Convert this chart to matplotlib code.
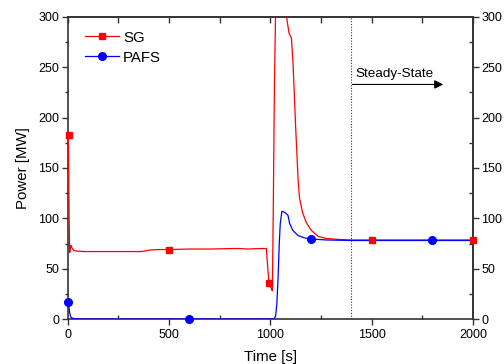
import matplotlib
matplotlib.use("Agg")
import matplotlib.pyplot as plt
from matplotlib.ticker import MultipleLocator, NullFormatter, FixedLocator

plt.rcParams['font.family'] = ['Liberation Sans', 'DejaVu Sans']

# SG (red) series
sg_t = [0, 3, 5, 7, 10, 13, 16, 20, 30, 45, 80, 150, 250, 360, 380, 405, 450, 500, 600, 700, 815,
        850, 890, 950, 980, 993, 1005, 1010, 1015, 1020, 1027, 1035, 1050, 1070, 1080, 1092, 1104,
        1112, 1125, 1137, 1144, 1160, 1177, 1202, 1236, 1275, 1341, 1400, 1500, 1600, 1800, 2000]
sg_p = [183, 183, 150, 100, 66, 70, 73, 71, 68, 67.5, 67, 67, 67, 67, 67.5, 68.5, 69, 69, 69.5, 69.5, 70,
        70, 69.5, 70, 70, 36, 30, 28, 120, 230, 320, 380, 400, 380, 300, 284, 279,
        254, 190, 138, 120, 105, 96, 88, 82, 80, 79, 78.5, 78.5, 78.5, 78.5, 78.5]
sg_mt = [5, 500, 993, 1500, 2000]
sg_mp = [183, 69, 36, 78.5, 78.5]

# PAFS (blue) series
pa_t = [0, 3, 6, 10, 15, 20, 30, 60, 200, 600, 1000, 1018, 1026, 1032, 1038, 1044, 1049, 1057,
        1070, 1087, 1095, 1111, 1136, 1169, 1202, 1275, 1400, 1600, 1800, 2000]
pa_p = [17, 17, 12, 6, 2, 1, 0.5, 0, 0, 0, 0, 0, 3, 15, 40, 75, 95, 107,
        106, 103, 95, 88, 83, 80.5, 79.5, 78.5, 78, 78, 78, 78]
pa_mt = [3, 600, 1200, 1800]
pa_mp = [16.5, 0, 79.5, 78]

x_major = [0, 500, 1000, 1500, 2000]
x_minor = [250, 750, 1250, 1750]
y_major = [0, 50, 100, 150, 200, 250, 300]
y_minor = [25, 75, 125, 175, 225, 275]

fig = plt.figure(figsize=(5.04, 3.64), dpi=100)
ax = fig.add_axes([67.7/504, 1-319/364, (473-67.7)/504, (319-17)/364])

ax.plot(sg_t, sg_p, color='#ff0000', lw=0.9, zorder=3)
ax.plot(pa_t, pa_p, color='#0000ff', lw=0.9, zorder=3)
ax.plot(sg_mt, sg_mp, ls='none', marker='s', ms=5, color='#ff0000', zorder=4, clip_on=False)
ax.plot(pa_mt, pa_mp, ls='none', marker='o', ms=5.5, color='#0000ff', zorder=4, clip_on=False)

# legend proxies
ax.plot([], [], color='#ff0000', lw=0.9, marker='s', ms=5, label='SG')
ax.plot([], [], color='#0000ff', lw=0.9, marker='o', ms=5.5, label='PAFS')
leg = ax.legend(loc='upper left', bbox_to_anchor=(0.02, 0.985), frameon=False, fontsize=10.8,
                handlelength=2.3, handletextpad=0.25, labelspacing=0.4, borderaxespad=0.2)

ax.set_xlim(0, 2000)
ax.set_ylim(0, 300)
ax.xaxis.set_major_locator(FixedLocator(x_major))
ax.xaxis.set_minor_locator(FixedLocator(x_minor))
ax.yaxis.set_major_locator(FixedLocator(y_major))
ax.yaxis.set_minor_locator(FixedLocator(y_minor))

spine_c = '#333333'
for s in ax.spines.values():
    s.set_linewidth(1.2)
    s.set_color(spine_c)

ax.tick_params(axis='x', which='major', direction='out', length=4, width=1, labelsize=9, pad=3,
               color=spine_c)
ax.tick_params(axis='x', which='minor', direction='in', length=3, width=1, color=spine_c)
ax.tick_params(axis='y', which='major', direction='out', length=4, width=1, labelsize=9, pad=2,
               color=spine_c)
ax.tick_params(axis='y', which='minor', direction='out', length=2.5, width=1, color=spine_c)

sx = ax.secondary_xaxis('top')
sx.xaxis.set_major_locator(FixedLocator(x_major))
sx.xaxis.set_minor_locator(FixedLocator(x_minor))
sx.xaxis.set_major_formatter(NullFormatter())
sx.tick_params(which='both', direction='in', length=4, width=1, color=spine_c)
sx.spines['top'].set_linewidth(1.2)
sx.spines['top'].set_color(spine_c)

sy = ax.secondary_yaxis('right')
sy.yaxis.set_major_locator(FixedLocator(y_major))
sy.yaxis.set_minor_locator(FixedLocator(y_minor))
sy.tick_params(which='major', direction='out', length=4, width=1, labelsize=9, pad=2, color=spine_c)
sy.tick_params(which='minor', direction='in', length=3, width=1, color=spine_c)
sy.spines['right'].set_linewidth(1.2)
sy.spines['right'].set_color(spine_c)

ax.set_xlabel('Time [s]', fontsize=10.8, labelpad=6.5)
ax.set_ylabel('Power [MW]', fontsize=10.8, labelpad=6)

ax.axvline(1400, color='#333333', lw=0.8, ls=(0, (1, 1.5)), zorder=2)
ax.annotate('', xy=(1853, 233), xytext=(1405, 233),
            arrowprops=dict(arrowstyle='-|>', color='black', lw=0.8, mutation_scale=13,
                            shrinkA=0, shrinkB=0))
ax.text(1418, 240, 'Steady-State', fontsize=9.7, ha='left', va='baseline')

fig.savefig('out.png', dpi=100)
